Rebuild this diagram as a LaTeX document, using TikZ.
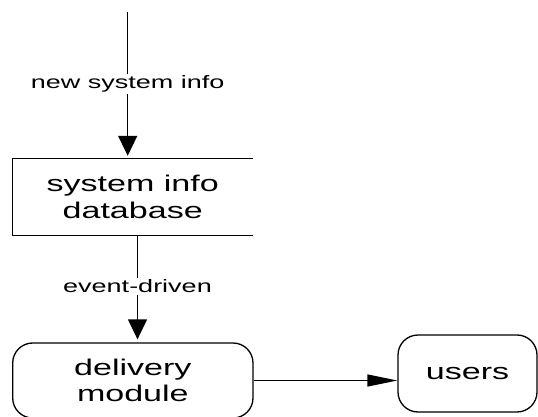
\documentclass[tikz,border=0pt]{standalone}
\usepackage{fontspec}
\setmainfont{Liberation Sans}[FakeStretch=1.5]
\usetikzlibrary{arrows.meta}
\begin{document}
\begin{tikzpicture}[x=1pt,y=-1pt,
  conn/.style={line width=1.3pt,draw=black},
  varrow/.style={conn,-{Triangle[width=19pt,length=20pt]},shorten >=3pt},
  harrow/.style={conn,-{Triangle[width=12pt,length=30pt]}},
  boxtext/.style={font=\fontsize{22.7}{26.5}\selectfont,align=center,inner sep=0pt},
  flowlabel/.style={font=\fontsize{18}{20}\selectfont,fill=white,inner sep=2pt},
  roundbox/.style={draw=black,line width=1.3pt,rounded corners=20pt,boxtext}
]
\useasboundingbox (0,0) rectangle (538,417);

% source of new info
\coordinate (src) at (127.7,12);

% database (open data store)
\node[boxtext,minimum width=240pt,minimum height=76pt] (db) at (132.7,197) {system info\\database};
\draw[conn] (db.north east) -- (db.north west) -- (db.south west) -- (db.south east);

% delivery module
\node[roundbox,minimum width=240.3pt,minimum height=75pt] (del) at (132.85,380.5) {delivery\\module};

% users
\node[roundbox,minimum width=139pt,minimum height=77pt] (usr) at (467.5,373.5) {users};

% connectors
\coordinate (dbout) at (137.5,235);
\draw[varrow] (src) -- (src |- db.north)
  node[flowlabel,pos=0.49] (lnew) {new system info};
\draw[varrow] (dbout) -- (dbout |- del.north)
  node[flowlabel,pos=0.48] (levt) {event-driven};
\draw[harrow] (del.east) -- (usr.west |- del.east);
\end{tikzpicture}
\end{document}
